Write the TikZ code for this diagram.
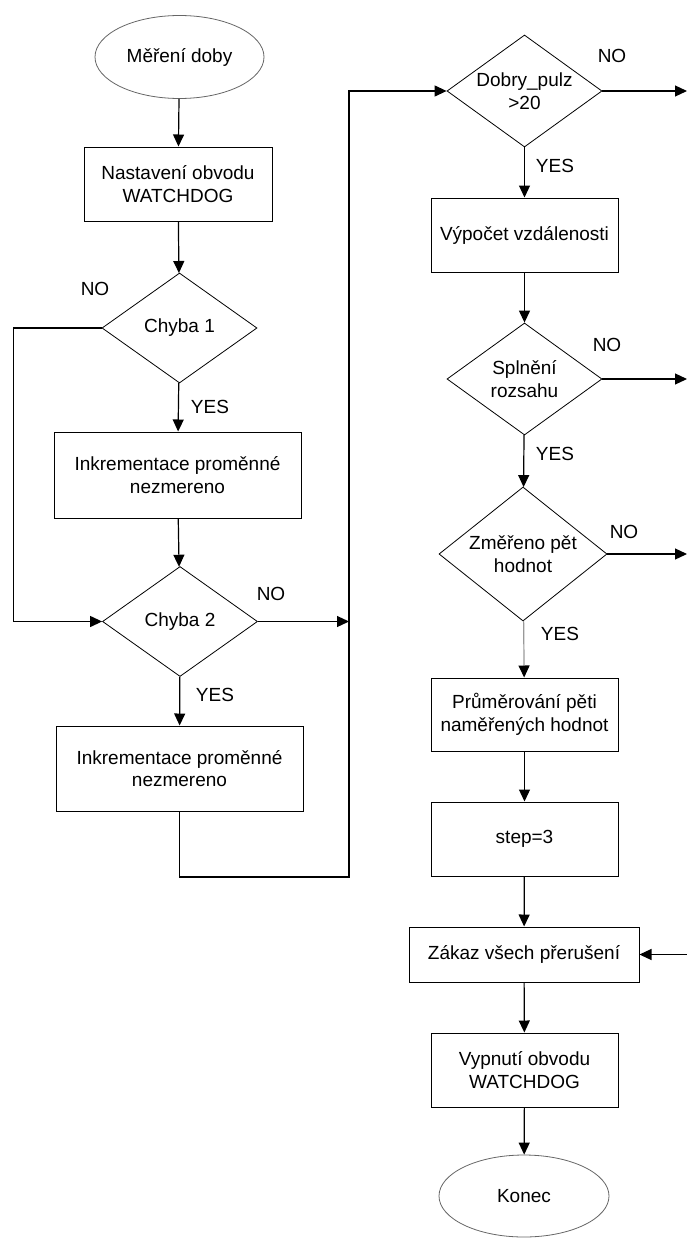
\documentclass[tikz,border=0pt]{standalone}
\usepackage{fontspec}
\setmainfont{Liberation Sans}
\usetikzlibrary{arrows.meta,positioning,shapes.geometric,calc}

\begin{document}
\begin{tikzpicture}[x=1pt,y=-1pt,font=\fontsize{19}{22.5}\selectfont,
  every node/.style={align=center},
  procbox/.style={draw,line width=1pt,minimum width=188pt,minimum height=74pt,inner sep=2pt},
  decide/.style={draw,diamond,line width=0.8pt,aspect=1.4,inner sep=0pt,minimum width=155pt,minimum height=110pt},
  termin/.style={draw=black!60,ellipse,line width=0.8pt,minimum width=169pt,minimum height=83pt,inner sep=0pt},
  yesno/.style={anchor=base,inner sep=0pt},
  conn/.style={-{Triangle[length=12pt,width=11pt]},line width=1.2pt},
  greyconn/.style={-{Triangle[length=12pt,width=11pt,color=black]},draw=black!40,line width=1.2pt}]
  \useasboundingbox (0,0) rectangle (687,1239);
  % left column
  \node[termin] (start) at (179.5,57) {Měření doby};
  \node[procbox] (set) at (178,184) {Nastavení obvodu\\WATCHDOG};
  \node[decide] (ch1) at (179.5,328) {Chyba 1};
  \node[procbox,minimum width=247pt,minimum height=86pt] (inc1) at (177.5,475) {Inkrementace proměnné\\nezmereno};
  \node[decide] (ch2) at (180,621.5) {Chyba 2};
  \node[procbox,minimum width=247pt,minimum height=85pt] (inc2) at (179.5,768.5) {Inkrementace proměnné\\nezmereno};
  % right column
  \node[decide,minimum height=112pt] (pulz) at (524.5,91) {Dobry\_pulz\\>20};
  \node[procbox,minimum width=187pt] (dist) at (524.5,235) {Výpočet vzdálenosti};
  \node[decide,minimum height=112pt] (range) at (524.5,379) {Splnění\\rozsahu};
  \node[decide,minimum width=168pt,minimum height=134pt] (five) at (523,554) {Změřeno pět\\hodnot};
  \node[procbox,minimum width=187pt,minimum height=73pt] (avg) at (524.5,714.5) {Průměrování pěti\\naměřených hodnot};
  \node[procbox,minimum width=187pt] (stp) at (524.5,839) {step=3};
  \node[procbox,minimum width=230pt,minimum height=55pt] (irq) at (524,954.5) {Zákaz všech přerušení};
  \node[procbox,minimum width=187pt] (off) at (524.5,1070) {Vypnutí obvodu\\WATCHDOG};
  \node[termin,minimum width=170pt,minimum height=82pt] (stop) at (524,1196) {Konec};
  % branch labels
  \node[yesno] (no1) at (95,295) {NO};
  \node[yesno] (yes1) at (210,413) {YES};
  \node[yesno] (no2) at (271,600) {NO};
  \node[yesno] (yes2) at (215,701) {YES};
  \node[yesno] (no3) at (612,63) {NO};
  \node[yesno] (yes3) at (555,172) {YES};
  \node[yesno] (no4) at (607,351) {NO};
  \node[yesno] (yes4) at (555,460) {YES};
  \node[yesno] (no5) at (624,538) {NO};
  \node[yesno] (yes5) at (560,640) {YES};
  \coordinate (bus) at (349,877);
  \coordinate (rim) at (687,0);
  % connectors
  \draw[conn] (start) -- (set);
  \draw[conn] (set) -- (ch1);
  \draw[conn] (ch1) -- (inc1);
  \draw[conn] (inc1) -- (ch2);
  \draw[conn] (ch1.west) -- ++(-88,0) |- (ch2.west);
  \draw[conn] (ch2) -- (inc2);
  \draw[conn] (ch2.east) -- (ch2.east -| bus);
  \draw[conn] (inc2.south) |- (bus) |- (pulz.west);
  \draw[conn] (pulz) -- (dist);
  \draw[conn] (dist) -- (range);
  \draw[conn] (range) -- (five);
  \draw[greyconn] (five) -- (avg);
  \draw[conn] (avg) -- (stp);
  \draw[conn] (stp) -- (irq);
  \draw[conn] (irq) -- (off);
  \draw[conn] (off) -- (stop);
  \draw[conn] (pulz.east) -- (pulz.east -| rim);
  \draw[conn] (range.east) -- (range.east -| rim);
  \draw[conn] (five.east) -- (five.east -| rim);
  \draw[conn] (irq.east -| rim) -- (irq.east);
\end{tikzpicture}
\end{document}
